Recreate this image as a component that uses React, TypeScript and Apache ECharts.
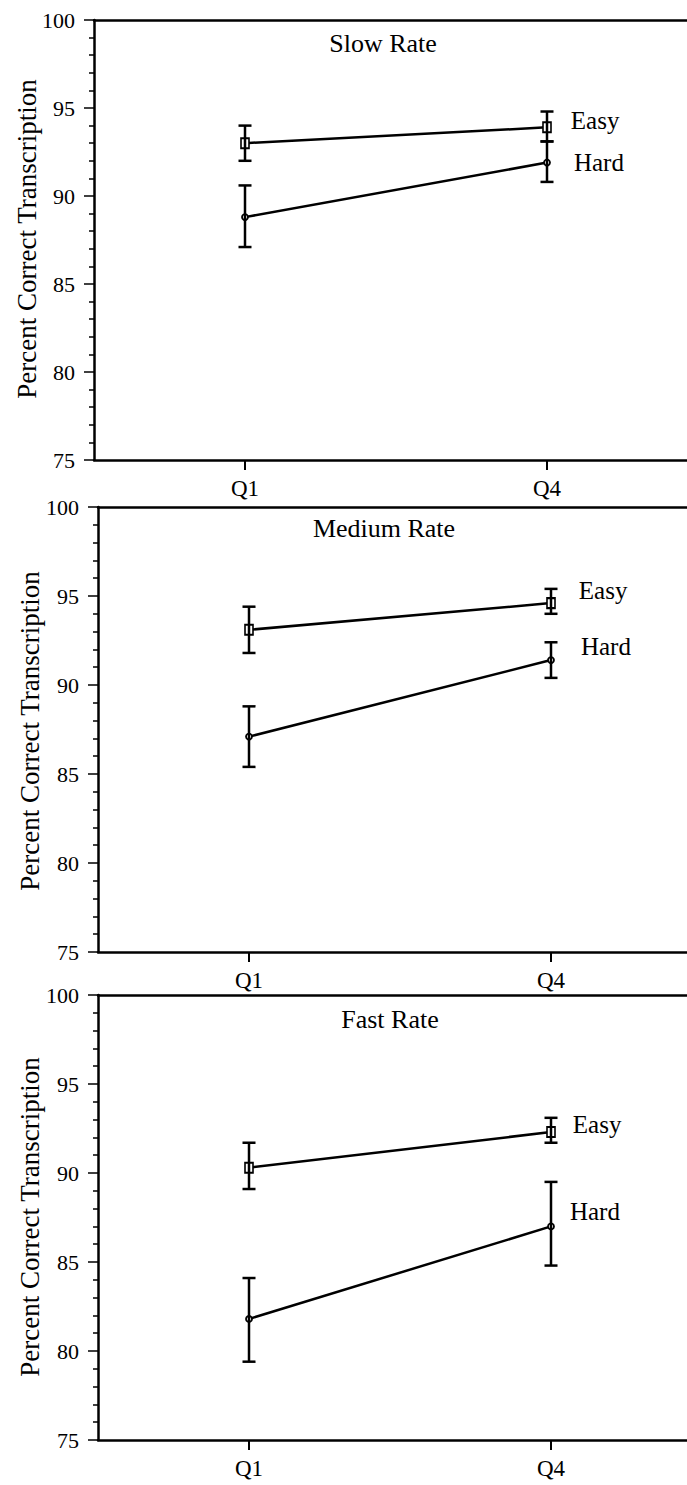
import React, { useEffect, useRef } from "react";
import * as echarts from "echarts";

const categories = ["Q1", "Q4"];
const yTicks = [75, 80, 85, 90, 95, 100];
const panelTitles = ["Slow Rate", "Medium Rate", "Fast Rate"];
const seriesNames = ["Easy", "Hard"];

const slowEasy = [93.0, 93.9];
const slowEasyLow = [92.0, 93.1];
const slowEasyHigh = [94.0, 94.8];
const slowHard = [88.8, 91.9];
const slowHardLow = [87.1, 90.8];
const slowHardHigh = [90.6, 93.1];

const mediumEasy = [93.1, 94.6];
const mediumEasyLow = [91.8, 94.0];
const mediumEasyHigh = [94.4, 95.4];
const mediumHard = [87.1, 91.4];
const mediumHardLow = [85.4, 90.4];
const mediumHardHigh = [88.8, 92.4];

const fastEasy = [90.3, 92.3];
const fastEasyLow = [89.1, 91.7];
const fastEasyHigh = [91.7, 93.1];
const fastHard = [81.8, 87.0];
const fastHardLow = [79.4, 84.8];
const fastHardHigh = [84.1, 89.5];

const FONT = "'Liberation Serif', 'DejaVu Serif', serif";
const INK = "#000";
const W = 687;

const panels = [
  {
    title: panelTitles[0],
    easy: slowEasy, easyLow: slowEasyLow, easyHigh: slowEasyHigh,
    hard: slowHard, hardLow: slowHardLow, hardHigh: slowHardHigh,
    grid: { left: 94, top: 20, width: 604, height: 440 },
    titlePos: [383, 43], namePos: [27, 239],
    easyLbl: [19, -7], hardLbl: [23, 0],
  },
  {
    title: panelTitles[1],
    easy: mediumEasy, easyLow: mediumEasyLow, easyHigh: mediumEasyHigh,
    hard: mediumHard, hardLow: mediumHardLow, hardHigh: mediumHardHigh,
    grid: { left: 98, top: 507, width: 604, height: 445 },
    titlePos: [384, 528], namePos: [30, 731],
    easyLbl: [23, -13], hardLbl: [26, -14],
  },
  {
    title: panelTitles[2],
    easy: fastEasy, easyLow: fastEasyLow, easyHigh: fastEasyHigh,
    hard: fastHard, hardLow: fastHardLow, hardHigh: fastHardHigh,
    grid: { left: 98, top: 995, width: 604, height: 445 },
    titlePos: [390, 1019], namePos: [30, 1217],
    easyLbl: [17, -8], hardLbl: [15, -15],
  },
];

function buildOption() {
  const grid: any[] = [];
  const xAxis: any[] = [];
  const topAxes: any[] = [];
  const yAxis: any[] = [];
  const series: any[] = [];
  const graphic: any[] = [];

  panels.forEach((p, i) => {
    grid.push({
      ...p.grid,
      outerBoundsMode: "none",
      containLabel: false,
      show: false,
    });
    xAxis.push({
      type: "category",
      gridIndex: i,
      data: categories,
      boundaryGap: true,
      axisLine: { show: true, lineStyle: { color: INK, width: 2.5 } },
      axisTick: { show: true, alignWithLabel: true, length: 10, lineStyle: { color: INK, width: 2 } },
      axisLabel: { color: INK, fontFamily: FONT, fontSize: 23, margin: 17 },
      splitLine: { show: false },
      splitArea: { show: false },
    });
    topAxes.push({
      type: "category",
      gridIndex: i,
      position: "top",
      data: categories,
      axisLine: { show: true, lineStyle: { color: INK, width: 2.5 } },
      axisTick: { show: false },
      axisLabel: { show: false },
      splitLine: { show: false },
      splitArea: { show: false },
    });
    yAxis.push({
      type: "value",
      gridIndex: i,
      min: yTicks[0],
      max: yTicks[yTicks.length - 1],
      interval: 5,
      axisLine: { show: true, lineStyle: { color: INK, width: 2.5 } },
      axisTick: { show: true, inside: false, length: 10, lineStyle: { color: INK, width: 1.5 } },
      minorTick: { show: true, splitNumber: 5, length: 5, lineStyle: { color: INK, width: 1.5 } },
      axisLabel: { color: INK, fontFamily: FONT, fontSize: 22, margin: 19 },
      splitLine: { show: false },
      minorSplitLine: { show: false },
    });

    const groups = [
      { name: seriesNames[0], vals: p.easy, low: p.easyLow, high: p.easyHigh, symbol: "rect", size: [8, 10], lbl: p.easyLbl },
      { name: seriesNames[1], vals: p.hard, low: p.hardLow, high: p.hardHigh, symbol: "circle", size: 6, lbl: p.hardLbl },
    ];

    groups.forEach((g) => {
      series.push({
        type: "line",
        name: g.name + i,
        xAxisIndex: i,
        yAxisIndex: i,
        z: 3,
        symbol: g.symbol,
        symbolSize: g.size,
        lineStyle: { color: INK, width: 2.5 },
        itemStyle: { color: "#fff", borderColor: INK, borderWidth: 1.8 },
        data: g.vals.map((v, k) =>
          k === g.vals.length - 1
            ? {
                value: v,
                label: {
                  show: true,
                  formatter: g.name,
                  position: "right",
                  distance: g.lbl[0],
                  offset: [0, g.lbl[1]],
                  color: INK,
                  fontFamily: FONT,
                  fontSize: 25,
                },
              }
            : v
        ),
      });
      series.push({
        type: "custom",
        name: g.name + "err" + i,
        xAxisIndex: i,
        yAxisIndex: i,
        z: 4,
        data: g.vals.map((_, k) => [k, g.low[k], g.high[k]]),
        renderItem: (params: any, api: any) => {
          const x = api.value(0);
          const lo = api.coord([x, api.value(1)]);
          const hi = api.coord([x, api.value(2)]);
          const hw = 6.5;
          const st = { stroke: INK, lineWidth: 2.5 };
          return {
            type: "group",
            children: [
              { type: "line", shape: { x1: lo[0], y1: lo[1], x2: hi[0], y2: hi[1] }, style: st },
              { type: "line", shape: { x1: hi[0] - hw, y1: hi[1], x2: hi[0] + hw, y2: hi[1] }, style: st },
              { type: "line", shape: { x1: lo[0] - hw, y1: lo[1], x2: lo[0] + hw, y2: lo[1] }, style: st },
            ],
          };
        },
      });
    });

    graphic.push({
      type: "text",
      x: p.titlePos[0],
      y: p.titlePos[1],
      style: {
        text: p.title,
        fill: INK,
        font: `26px ${FONT}`,
        textAlign: "center",
        textVerticalAlign: "middle",
      },
    });
    graphic.push({
      type: "text",
      x: p.namePos[0],
      y: p.namePos[1],
      rotation: Math.PI / 2,
      style: {
        text: "Percent Correct Transcription",
        fill: INK,
        font: `27px ${FONT}`,
        textAlign: "center",
        textVerticalAlign: "middle",
      },
    });
    // white strip to keep the right edge of the frame open
    graphic.push({
      type: "rect",
      z: 100,
      silent: true,
      shape: { x: W - 8, y: p.grid.top + 3, width: 8, height: p.grid.height - 6 },
      style: { fill: "#fff" },
    });
  });

  return {
    animation: false,
    backgroundColor: "#fff",
    grid,
    xAxis: xAxis.concat(topAxes),
    yAxis,
    series,
    graphic,
  };
}

export default function App() {
  const ref = useRef<HTMLDivElement>(null);
  useEffect(() => {
    if (!ref.current) return;
    const chart = echarts.init(ref.current, undefined, { renderer: "svg" });
    chart.setOption(buildOption() as any);
    return () => chart.dispose();
  }, []);
  return (
    <div
      ref={ref}
      style={{ position: "absolute", left: 0, top: 0, width: W, height: 1485, background: "#fff" }}
    />
  );
}
